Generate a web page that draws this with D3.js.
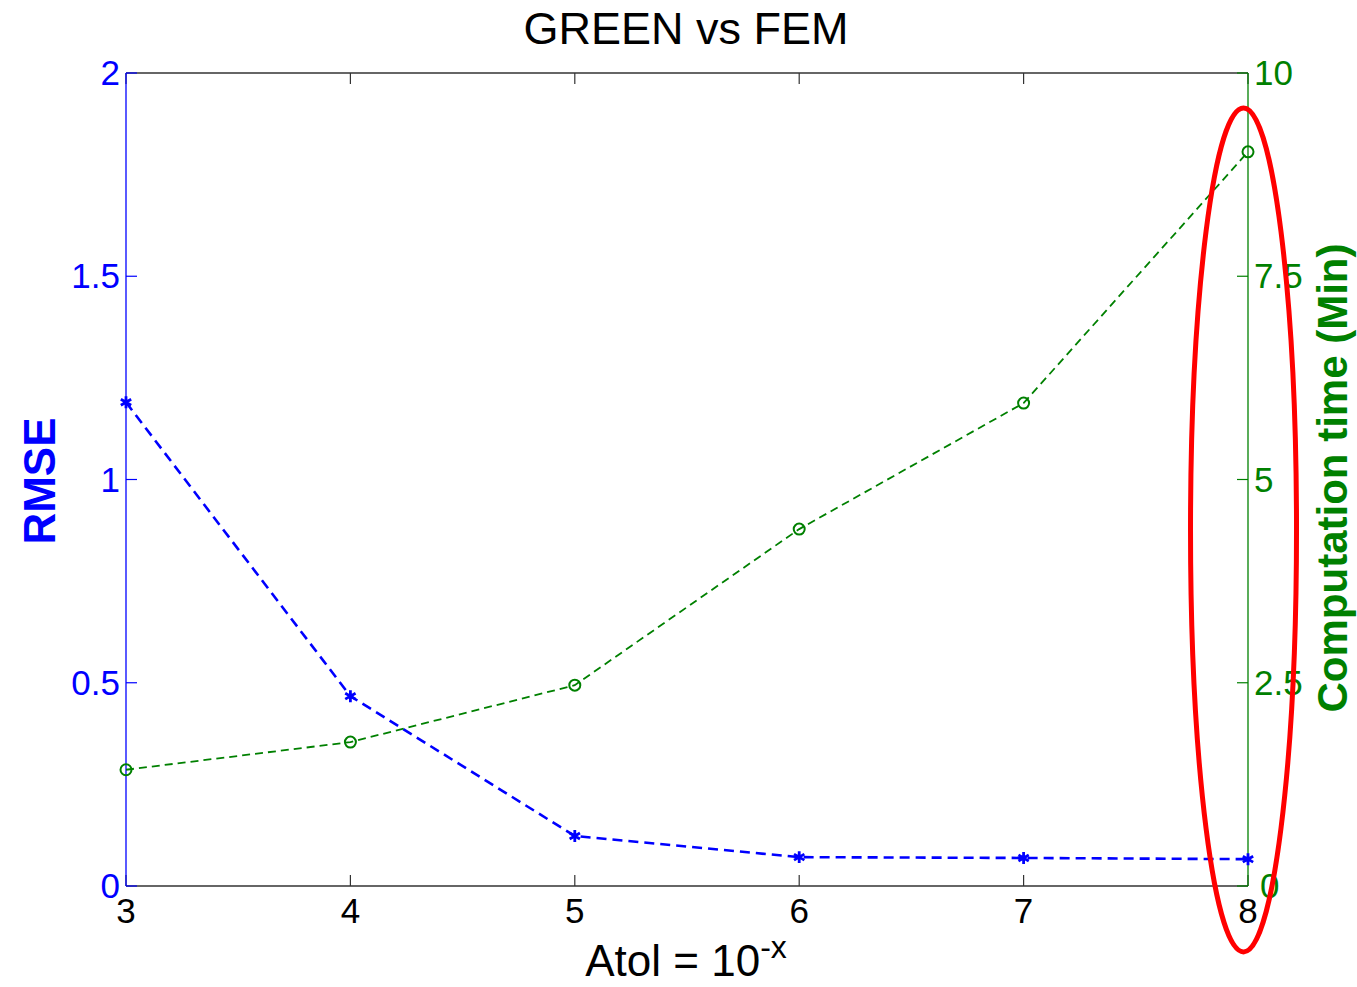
<!DOCTYPE html>
<html>
<head>
<meta charset="utf-8">
<script src="https://cdn.jsdelivr.net/npm/d3@7"></script>
<style>
  body { margin: 0; background: #fff; }
  text { font-family: "Liberation Sans", Arial, sans-serif; }
</style>
</head>
<body>
<svg id="chart" width="1357" height="987"></svg>
<script>
// data
var atol = [3, 4, 5, 6, 7, 8];
var rmse = [1.19, 0.467, 0.123, 0.071, 0.069, 0.066];
var compTime = [1.43, 1.77, 2.47, 4.39, 5.94, 9.03];

var xTicks = [3, 4, 5, 6, 7, 8];
var leftTicks = [0, 0.5, 1, 1.5, 2];
var rightTicks = [0, 2.5, 5, 7.5, 10];
var leftTickLabels = ["0", "0.5", "1", "1.5", "2"];
var rightTickLabels = ["0", "2.5", "5", "7.5", "10"];

// red highlight ellipse around the last point (data coords)
var highlightX = [7.98];
var highlightTime = [4.38];

var margin = {top: 73, right: 109, bottom: 101, left: 126};
var width = 1357 - margin.left - margin.right;
var height = 987 - margin.top - margin.bottom;

var svg = d3.select("#chart");
var g = svg.append("g")
    .attr("transform", "translate(" + margin.left + "," + margin.top + ")");

var x = d3.scaleLinear().domain([3, 8]).range([0, width]);
var yL = d3.scaleLinear().domain([0, 2]).range([height, 0]);
var yR = d3.scaleLinear().domain([0, 10]).range([height, 0]);

var blue = "#0000ff";
var green = "#008000";

// frame top/bottom
g.append("line").attr("x1", 0).attr("x2", width).attr("y1", 0).attr("y2", 0)
    .attr("stroke", "#333").attr("stroke-width", 1.5);
g.append("line").attr("x1", 0).attr("x2", width).attr("y1", height).attr("y2", height)
    .attr("stroke", "#333").attr("stroke-width", 1.5);

// x ticks (inward, top and bottom)
xTicks.forEach(function(t) {
    g.append("line").attr("x1", x(t)).attr("x2", x(t)).attr("y1", height).attr("y2", height - 11)
        .attr("stroke", "#333").attr("stroke-width", 1.2);
    g.append("line").attr("x1", x(t)).attr("x2", x(t)).attr("y1", 0).attr("y2", 11)
        .attr("stroke", "#333").attr("stroke-width", 1.2);
    g.append("text")
        .attr("x", x(t)).attr("y", height + 37)
        .attr("text-anchor", "middle")
        .attr("font-size", 35)
        .attr("fill", "#000")
        .text(t);
});

// left axis
g.append("line").attr("x1", 0).attr("x2", 0).attr("y1", 0).attr("y2", height)
    .attr("stroke", blue).attr("stroke-width", 1.3);
leftTicks.forEach(function(t, i) {
    g.append("line").attr("x1", 0).attr("x2", 11).attr("y1", yL(t)).attr("y2", yL(t))
        .attr("stroke", blue).attr("stroke-width", 1.2);
    g.append("text")
        .attr("x", -6).attr("y", yL(t) + 12)
        .attr("text-anchor", "end")
        .attr("font-size", 35)
        .attr("fill", blue)
        .text(leftTickLabels[i]);
});

// right axis
g.append("line").attr("x1", width).attr("x2", width).attr("y1", 0).attr("y2", height)
    .attr("stroke", green).attr("stroke-width", 1.3);
rightTicks.forEach(function(t, i) {
    g.append("line").attr("x1", width).attr("x2", width - 11).attr("y1", yR(t)).attr("y2", yR(t))
        .attr("stroke", green).attr("stroke-width", 1.2);
    g.append("text")
        .attr("x", width + (t === 0 ? 12 : 6)).attr("y", yR(t) + 12)
        .attr("text-anchor", "start")
        .attr("font-size", 35)
        .attr("fill", green)
        .text(rightTickLabels[i]);
});

// RMSE line
var lineL = d3.line()
    .x(function(d, i) { return x(atol[i]) })
    .y(function(d) { return yL(d) });
g.append("path")
    .datum(rmse)
    .attr("d", lineL)
    .attr("fill", "none")
    .attr("stroke", blue)
    .attr("stroke-width", 2.6)
    .attr("stroke-dasharray", "10,6");

// asterisk markers
var star = d3.symbol().type(d3.symbolAsterisk).size(100);
g.selectAll(".star")
    .data(rmse)
    .enter()
    .append("path")
        .attr("class", "star")
        .attr("d", star)
        .attr("transform", function(d, i) { return "translate(" + x(atol[i]) + "," + yL(d) + ")" })
        .attr("fill", "none")
        .attr("stroke", blue)
        .attr("stroke-width", 2.8);

// computation time line
var lineR = d3.line()
    .x(function(d, i) { return x(atol[i]) })
    .y(function(d) { return yR(d) });
g.append("path")
    .datum(compTime)
    .attr("d", lineR)
    .attr("fill", "none")
    .attr("stroke", green)
    .attr("stroke-width", 1.8)
    .attr("stroke-dasharray", "8,5");

g.selectAll(".circ")
    .data(compTime)
    .enter()
    .append("circle")
        .attr("class", "circ")
        .attr("cx", function(d, i) { return x(atol[i]) })
        .attr("cy", function(d) { return yR(d) })
        .attr("r", 5.5)
        .attr("fill", "none")
        .attr("stroke", green)
        .attr("stroke-width", 2);

// red ellipse
g.selectAll(".hl")
    .data(highlightX)
    .enter()
    .append("ellipse")
        .attr("class", "hl")
        .attr("cx", function(d) { return x(d) })
        .attr("cy", function(d, i) { return yR(highlightTime[i]) })
        .attr("rx", 53)
        .attr("ry", 422)
        .attr("fill", "none")
        .attr("stroke", "#ff0000")
        .attr("stroke-width", 5);

// title
svg.append("text")
    .attr("x", 686).attr("y", 44)
    .attr("text-anchor", "middle")
    .attr("font-size", 45)
    .attr("fill", "#000")
    .text("GREEN vs FEM");

// x label
var xl = svg.append("text")
    .attr("x", 686).attr("y", 976)
    .attr("text-anchor", "middle")
    .attr("font-size", 44)
    .attr("fill", "#000");
xl.append("tspan").text("Atol = 10");
xl.append("tspan").attr("dy", -18).attr("font-size", 32).text("-x");

// left label
svg.append("text")
    .attr("transform", "translate(55,481) rotate(-90)")
    .attr("text-anchor", "middle")
    .attr("font-size", 44)
    .attr("font-weight", "bold")
    .attr("fill", blue)
    .text("RMSE");

// right label
svg.append("text")
    .attr("transform", "translate(1347,478) rotate(-90)")
    .attr("text-anchor", "middle")
    .attr("font-size", 42)
    .attr("font-weight", "bold")
    .attr("fill", green)
    .text("Computation time (Min)");
</script>
</body>
</html>
